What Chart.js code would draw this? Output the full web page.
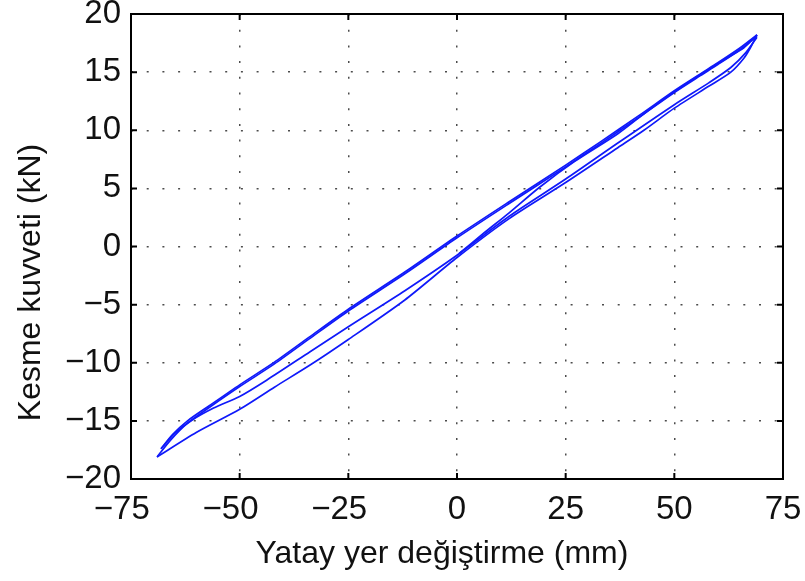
<!DOCTYPE html>
<html>
<head>
<meta charset="utf-8">
<script src="https://cdn.jsdelivr.net/npm/chart.js@4/dist/chart.umd.min.js"></script>
<style>
  html, body { margin: 0; padding: 0; background: #fff; }
  #wrap { width: 805px; height: 581px; }
</style>
</head>
<body>
<div id="wrap"><canvas id="mychart" width="805" height="581"></canvas></div>
<script>
// axis ticks
const xTicks = [-75, -50, -25, 0, 25, 50, 75];
const yTicks = [-20, -15, -10, -5, 0, 5, 10, 15, 20];
const xTitle = 'Yatay yer değiştirme (mm)';
const yTitle = 'Kesme kuvveti (kN)';

// initial loading from the origin
const virginX = [0.5, 6, 12, 19, 27, 37, 44, 50, 56, 62, 66, 69];
const virginY = [-0.6, 1.1, 2.9, 5.1, 7.3, 9.7, 11.7, 13.3, 14.8, 16.2, 17.1, 18.2];

// unloading branch, first pass (to the inner negative tip)
const upper1X = [69, 65, 60, 56, 50, 42, 33, 25, 12, 0, -12, -25, -34, -42, -50, -57, -62, -65.5, -68.1];
const upper1Y = [18.2, 17.05, 15.8, 14.85, 13.4, 11.3, 9.0, 7.0, 3.85, 0.9, -2.2, -5.4, -7.8, -9.95, -11.9, -13.7, -15.0, -16.2, -17.4];

// reloading branch from the inner tip
const middleX = [-68.1, -65, -61, -56, -50, -43.8, -33.8, -25, -12, 0, 12, 25, 37, 50, 58, 63, 66.5, 69];
const middleY = [-17.4, -16.1, -14.95, -13.9, -12.9, -11.5, -9.05, -6.9, -3.8, -0.75, 2.6, 5.8, 8.9, 12.2, 14.1, 15.4, 16.7, 18.0];

// unloading branch, second pass (to the outer negative tip)
const upper2X = [69, 65, 60, 56, 50, 42, 33, 25, 12, 0, -12, -25, -34, -42, -50, -57, -62, -66, -69];
const upper2Y = [18.1, 16.9, 15.65, 14.7, 13.25, 11.15, 8.85, 6.85, 3.7, 0.75, -2.35, -5.55, -7.95, -10.1, -12.05, -13.85, -15.2, -16.7, -18.1];

// reloading branch from the outer tip
const lowerX = [-69, -60, -50, -42, -33.8, -25, -12, 0, 12, 25, 37, 43, 50, 58, 63, 66, 67.5, 69];
const lowerY = [-18.1, -16.0, -14.0, -12.1, -10.2, -8.0, -4.6, -0.95, 2.4, 5.5, 8.5, 10.0, 11.9, 13.8, 15.0, 16.2, 17.1, 18.2];

const segments = [[virginX, virginY], [upper1X, upper1Y], [middleX, middleY], [upper2X, upper2Y], [lowerX, lowerY]];

const fontFam = "'Liberation Sans', Arial, Helvetica, sans-serif";
// minus sign kept outside the centring, as in the original figure
const xLabel = v => (v < 0 ? '\u2212' + Math.abs(v) + '  ' : '' + v);
const yLabel = v => (v < 0 ? '\u2212' + Math.abs(v) : '' + v);

const frame = {
    id: 'frame',
    afterDatasetsDraw(chart) {
        const {ctx, chartArea: a, scales: {x, y}} = chart;
        ctx.save();
        ctx.strokeStyle = '#000';
        ctx.lineWidth = 2;
        ctx.beginPath();
        xTicks.forEach(v => {
            const px = x.getPixelForValue(v);
            ctx.moveTo(px, a.bottom); ctx.lineTo(px, a.bottom - 6);
            ctx.moveTo(px, a.top); ctx.lineTo(px, a.top + 6);
        });
        yTicks.forEach(v => {
            const py = y.getPixelForValue(v);
            ctx.moveTo(a.left, py); ctx.lineTo(a.left + 6, py);
            ctx.moveTo(a.right, py); ctx.lineTo(a.right - 6, py);
        });
        ctx.stroke();
        ctx.strokeRect(a.left, a.top, a.right - a.left, a.bottom - a.top);
        ctx.restore();
    },
    afterDraw(chart) {
        const {ctx, chartArea: a} = chart;
        ctx.save();
        ctx.fillStyle = '#111';
        ctx.font = '32px ' + fontFam;
        ctx.textAlign = 'center';
        ctx.textBaseline = 'middle';
        ctx.fillText(xTitle, (a.left + a.right) / 2 - 15, 554);
        ctx.translate(31, (a.top + a.bottom) / 2 + 36);
        ctx.rotate(-Math.PI / 2);
        ctx.fillText(yTitle, 0, 0);
        ctx.restore();
    }
};

const data = {
    datasets: segments.map(s => ({
        data: s[0].map((v, i) => ({x: v, y: s[1][i]})),
        showLine: true,
        borderColor: 'rgb(15,25,250)',
        borderWidth: 1.7,
        pointRadius: 0,
        tension: 0.25,
        fill: false
    }))
};

const config = {
    type: 'scatter',
    data: data,
    options: {
        responsive: false,
        animation: false,
        layout: {padding: {top: 14, right: 22, left: 0, bottom: 0}},
        plugins: {legend: {display: false}, tooltip: {enabled: false}},
        scales: {
            x: {
                min: -75, max: 75,
                afterFit: s => { s.height = 102; s.paddingLeft = 0; s.paddingRight = 0; },
                afterBuildTicks: s => { s.ticks = xTicks.map(v => ({value: v})); },
                ticks: {callback: xLabel, color: '#111', padding: 11, maxRotation: 0, autoSkip: false,
                        font: {family: fontFam, size: 33}},
                grid: {color: 'rgba(0,0,0,0.7)', lineWidth: 1.5, drawTicks: false},
                border: {display: false, dash: [2, 13.7]}
            },
            y: {
                min: -20, max: 20,
                afterFit: s => { s.width = 131; s.paddingTop = 0; s.paddingBottom = 0; },
                afterBuildTicks: s => { s.ticks = yTicks.map(v => ({value: v})); },
                ticks: {callback: yLabel, color: '#111', padding: 10, autoSkip: false,
                        font: {family: fontFam, size: 33}},
                grid: {color: 'rgba(0,0,0,0.7)', lineWidth: 1.5, drawTicks: false},
                border: {display: false, dash: [2, 13.7]}
            }
        }
    },
    plugins: [frame]
};

const lineChart = new Chart(document.querySelector('#mychart'), config);
</script>
</body>
</html>
